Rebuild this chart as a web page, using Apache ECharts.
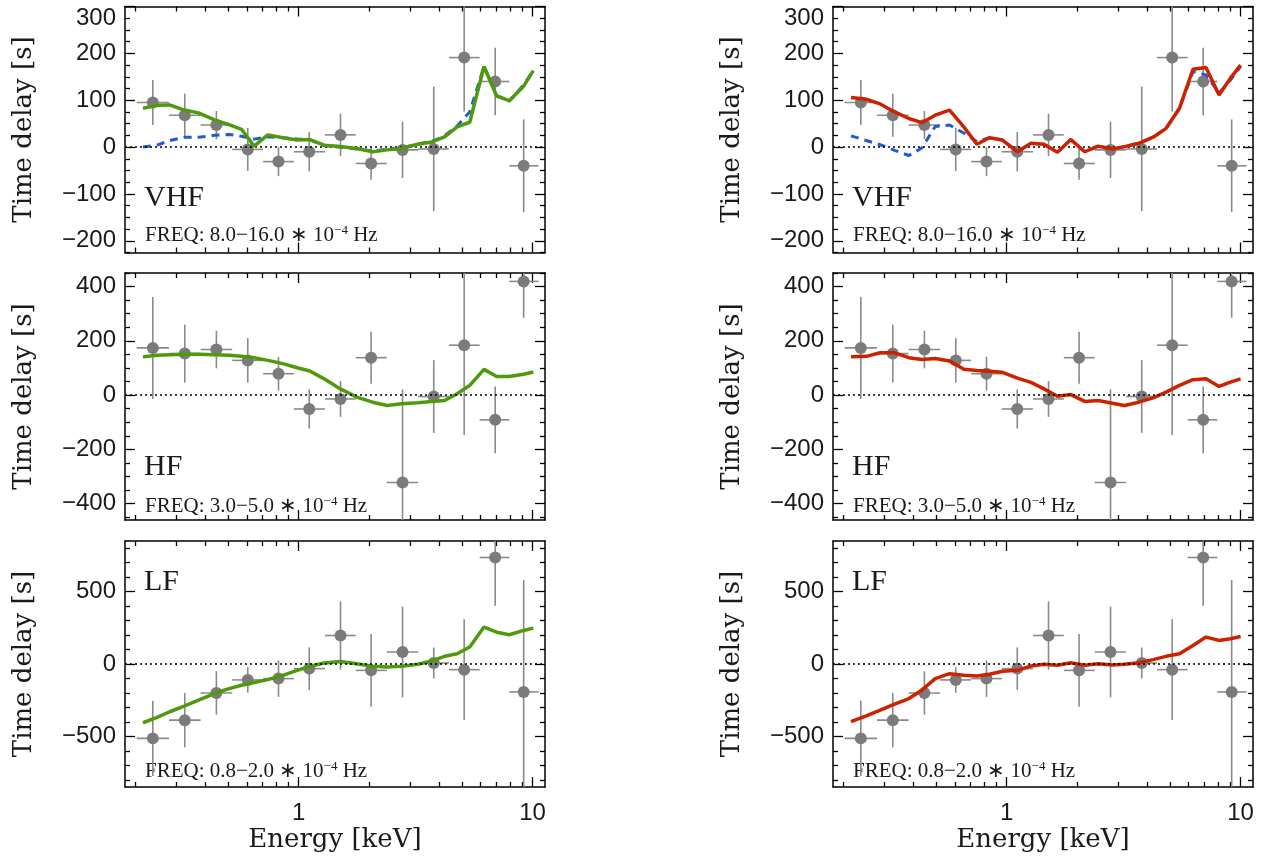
<!DOCTYPE html>
<html>
<head>
<meta charset="utf-8">
<script src="https://cdn.jsdelivr.net/npm/echarts@6/dist/echarts.min.js"></script>
<style>
  html, body { margin: 0; background: #fff; }
  #lag_chart { width: 1265px; height: 860px; }
</style>
</head>
<body>
<div id="lag_chart"></div>
<script>
// energy bins of the measured lags (keV): centre, lower and upper edge
const binE = [0.238, 0.326, 0.445, 0.606, 0.82, 1.11, 1.51, 2.04, 2.78, 3.78, 5.1, 6.92, 9.16]
const binLo = [0.203, 0.279, 0.381, 0.52, 0.705, 0.954, 1.295, 1.755, 2.38, 3.24, 4.39, 5.94, 7.96]
const binHi = [0.279, 0.381, 0.52, 0.705, 0.954, 1.295, 1.755, 2.38, 3.24, 4.39, 5.94, 7.96, 10.6]

// measured time delays and their errors (s)
const vhfLag = [95, 68, 47, -5, -31, -10, 26, -35, -6, -4, 191, 140, -40]
const vhfErr = [48, 46, 30, 46, 31, 42, 45, 35, 60, 133, 115, 72, 99]
const hfLag = [174, 153, 168, 128, 79, -51, -14, 138, -322, -5, 184, -91, 419]
const hfErr = [188, 107, 69, 82, 62, 72, 66, 96, 343, 134, 331, 123, 134]
const lfLag = [-514, -388, -200, -110, -101, -32, 197, -44, 83, 7, -39, 736, -193]
const lfErr = [260, 188, 150, 88, 126, 147, 236, 252, 313, 107, 348, 333, 773]

// model curves, left column (green) and its dashed companion
const greenE = [0.216, 0.248, 0.281, 0.324, 0.373, 0.437, 0.504, 0.570, 0.645, 0.738, 0.856, 0.986, 1.116, 1.286, 1.508,
  1.768, 2.073, 2.388, 2.751, 3.226, 3.715, 4.206, 4.760, 5.387, 6.20, 7.02, 7.95, 9.16, 10.07]
const vhfGreen = [83, 89, 90, 79, 73, 58, 48, 38, 2, 26, 20, 15, 16, 4, 1, -3, -10, -6, -3, 6, 11, 22, 43, 53, 172, 109, 99, 130, 163]
const vhfBlueL = [0, 4, 14, 21, 21, 25, 27, 23, 17, 22, 20, 17, 16, 3, 0, -4, -8, -5, -2, 7, 12, 24, 45, 75, 172, 110, 98, 133, 163]
const hfGreen = [141, 147, 149, 151, 151, 149, 147, 143, 138, 128, 116, 101, 89, 60, 23, -7, -26, -38, -32, -28, -23, -20, 5, 36, 95, 69, 69, 77, 85]
const lfGreen = [-406, -369, -330, -291, -250, -204, -170, -147, -128, -108, -78, -44, -16, 7, 18, 2, -16, -21, -16, -2, 21, 53, 71, 117, 255, 220, 202, 232, 248]

// model curves, right column (red) and its dashed companion
const redE = [0.216, 0.251, 0.288, 0.332, 0.382, 0.434, 0.495, 0.570, 0.656, 0.746, 0.844, 0.959, 1.113, 1.270, 1.444,
  1.648, 1.881, 2.157, 2.460, 2.831, 3.192, 3.673, 4.227, 4.804, 5.483, 6.257, 7.115, 8.09, 9.05, 10.0]
const vhfRed = [106, 102, 92, 75, 61, 52, 68, 79, 43, 6, 20, 15, -10, 8, 6, -11, 16, -10, 2, -4, 1, 8, 21, 40, 83, 166, 170, 111, 147, 175]
const vhfBlueR = [24, 14, 5, -7, -18, -2, 44, 47, 30, 12, 20, 15, -10, 8, 6, -11, 16, -10, 2, -4, 1, 8, 21, 40, 83, 161, 154, 115, 143, 172]
const hfRed = [141, 143, 156, 156, 138, 131, 135, 126, 95, 91, 88, 84, 63, 47, 23, -4, 2, -23, -20, -30, -38, -26, -10, 11, 36, 57, 60, 32, 48, 60]
const lfRed = [-399, -358, -319, -278, -239, -181, -101, -67, -78, -83, -71, -50, -44, -14, -2, -9, 9, -9, 2, -7, -2, 9, 30, 53, 71, 128, 186, 163, 174, 190]

// tick values
const xMajor = [1, 10]
const xMinor = [0.2, 0.3, 0.4, 0.5, 0.6, 0.7, 0.8, 0.9, 2, 3, 4, 5, 6, 7, 8, 9]
const vhfTicks = [-200, -100, 0, 100, 200, 300]
const vhfMinor = [-225, -175, -150, -125, -75, -50, -25, 25, 50, 75, 125, 150, 175, 225, 250, 275]
const hfTicks = [-400, -200, 0, 200, 400]
const hfMinor = [-450, -350, -300, -250, -150, -100, -50, 50, 100, 150, 250, 300, 350, 450]
const lfTicks = [-500, 0, 500]
const lfMinor = [-800, -700, -600, -400, -300, -200, -100, 100, 200, 300, 400, 600, 700, 800]

const GREEN = '#4f9a0c'
const RED = '#cc2200'
const BLUE = '#1f5bd1'
const GREY = '#7b7b7b'

const xRange = [0.181, 11.3]
const colLeft = [125, 833]
const plotWidth = 420
const rows = [
  { top: 6.5, height: 246, min: -225, max: 300, ticks: vhfTicks, minor: vhfMinor, tag: 'VHF', tagY: 198, freq: '8.0−16.0', freqY: 235 },
  { top: 273, height: 247, min: -460, max: 450, ticks: hfTicks, minor: hfMinor, tag: 'HF', tagY: 467, freq: '3.0−5.0', freqY: 506 },
  { top: 541, height: 246, min: -850, max: 850, ticks: lfTicks, minor: lfMinor, tag: 'LF', tagY: 582, freq: '0.8−2.0', freqY: 771 }
]

const panels = [
  { row: 0, col: 0, lag: vhfLag, err: vhfErr, lines: [{ e: greenE, v: vhfBlueL, color: BLUE, dash: true }, { e: greenE, v: vhfGreen, color: GREEN }] },
  { row: 0, col: 1, lag: vhfLag, err: vhfErr, lines: [{ e: redE, v: vhfBlueR, color: BLUE, dash: true }, { e: redE, v: vhfRed, color: RED }] },
  { row: 1, col: 0, lag: hfLag, err: hfErr, lines: [{ e: greenE, v: hfGreen, color: GREEN }] },
  { row: 1, col: 1, lag: hfLag, err: hfErr, lines: [{ e: redE, v: hfRed, color: RED }] },
  { row: 2, col: 0, lag: lfLag, err: lfErr, lines: [{ e: greenE, v: lfGreen, color: GREEN }] },
  { row: 2, col: 1, lag: lfLag, err: lfErr, lines: [{ e: redE, v: lfRed, color: RED }] }
]

const tickFont = { color: '#1a1a1a', fontFamily: 'Liberation Sans', fontSize: 24 }
const nameFont = { color: '#1a1a1a', fontFamily: 'DejaVu Serif', fontSize: 26 }
const minus = v => String(v).replace('-', '−')

function makeX (g, pos, ticks, len, main, labels) {
  return {
    type: 'log',
    logBase: 10,
    gridIndex: g,
    position: pos,
    min: xRange[0],
    max: xRange[1],
    axisLine: { show: main, onZero: false, lineStyle: { color: '#000', width: 1.5 } },
    axisTick: { show: true, inside: true, length: len, customValues: ticks, lineStyle: { color: '#000', width: 1.3 } },
    axisLabel: labels ? Object.assign({ show: true, customValues: xMajor, margin: 14, formatter: v => String(v) }, tickFont) : { show: false },
    splitLine: { show: false },
    name: labels ? 'Energy [keV]' : '',
    nameLocation: 'middle',
    nameGap: 40,
    nameTextStyle: nameFont
  }
}

function makeY (g, r, pos, ticks, len, main, labels) {
  const label = labels ? Object.assign({ show: true, customValues: r.ticks, margin: 9, formatter: minus }, tickFont) : { show: false }
  if (labels && r.max === r.ticks[r.ticks.length - 1]) label.verticalAlignMaxLabel = 'top'
  return {
    type: 'value',
    gridIndex: g,
    position: pos,
    min: r.min,
    max: r.max,
    axisLine: { show: main, onZero: false, lineStyle: { color: '#000', width: 1.5 } },
    axisTick: { show: true, inside: true, length: len, customValues: ticks, lineStyle: { color: '#000', width: 1.3 } },
    axisLabel: label,
    splitLine: { show: false },
    name: labels ? 'Time delay [s]' : '',
    nameLocation: 'middle',
    nameGap: 88,
    nameTextStyle: nameFont
  }
}

const grid = []
const xAxis = []
const yAxis = []
const series = []
const graphic = []

panels.forEach((p, g) => {
  const r = rows[p.row]
  const left = colLeft[p.col]
  grid.push({ left: left, top: r.top, width: plotWidth, height: r.height, containLabel: false, outerBoundsMode: 'none' })

  const xi = xAxis.length
  xAxis.push(makeX(g, 'bottom', xMajor, 10, true, p.row === 2))
  xAxis.push(makeX(g, 'bottom', xMinor, 5, false, false))
  xAxis.push(makeX(g, 'top', xMajor, 10, true, false))
  xAxis.push(makeX(g, 'top', xMinor, 5, false, false))

  const yi = yAxis.length
  yAxis.push(makeY(g, r, 'left', r.ticks, 10, true, true))
  yAxis.push(makeY(g, r, 'left', r.minor, 5, false, false))
  yAxis.push(makeY(g, r, 'right', r.ticks, 10, true, false))
  yAxis.push(makeY(g, r, 'right', r.minor, 5, false, false))

  // error bars
  series.push({
    type: 'custom',
    xAxisIndex: xi,
    yAxisIndex: yi,
    silent: true,
    z: 2,
    encode: { x: 0, y: 1 },
    data: binE.map((e, i) => [e, p.lag[i], binLo[i], binHi[i], p.err[i]]),
    renderItem: (params, api) => {
      const cs = params.coordSys
      const clampY = y => Math.min(Math.max(y, cs.y), cs.y + cs.height)
      const c = api.coord([api.value(0), api.value(1)])
      const lo = api.coord([api.value(2), api.value(1)])
      const hi = api.coord([api.value(3), api.value(1)])
      const up = api.coord([api.value(0), api.value(1) + api.value(4)])
      const dn = api.coord([api.value(0), api.value(1) - api.value(4)])
      const style = { stroke: '#8a8a8a', lineWidth: 1.6 }
      return {
        type: 'group',
        children: [
          { type: 'line', shape: { x1: lo[0], y1: c[1], x2: hi[0], y2: c[1] }, style: style },
          { type: 'line', shape: { x1: c[0], y1: clampY(up[1]), x2: c[0], y2: clampY(dn[1]) }, style: style }
        ]
      }
    }
  })

  // data points and the zero line
  series.push({
    type: 'scatter',
    xAxisIndex: xi,
    yAxisIndex: yi,
    silent: true,
    z: 3,
    symbolSize: 12,
    itemStyle: { color: GREY, opacity: 1 },
    data: binE.map((e, i) => [e, p.lag[i]]),
    markLine: {
      silent: true,
      symbol: ['none', 'none'],
      label: { show: false },
      lineStyle: { color: '#000', type: [2, 3], width: 1.5 },
      data: [{ yAxis: 0 }]
    }
  })

  // model curves
  p.lines.forEach((l, k) => {
    series.push({
      type: 'line',
      xAxisIndex: xi,
      yAxisIndex: yi,
      silent: true,
      z: 4 + k,
      symbol: 'none',
      clip: true,
      lineStyle: { color: l.color, width: l.dash ? 3 : 3.5, type: l.dash ? [8, 6] : 'solid' },
      data: l.e.map((e, i) => [e, l.v[i]])
    })
  })

  graphic.push({
    type: 'text',
    x: left + 19,
    y: r.tagY,
    style: { text: r.tag, font: '30px "Liberation Serif"', fill: '#1a1a1a', verticalAlign: 'middle' }
  })
  graphic.push({
    type: 'text',
    x: left + 20,
    y: r.freqY,
    style: {
      text: '{a|FREQ: ' + r.freq + ' ∗ 10}{s|−4}{a| Hz}',
      verticalAlign: 'middle',
      rich: {
        a: { fontFamily: 'Liberation Serif', fontSize: 21, fill: '#1a1a1a', color: '#1a1a1a' },
        s: { fontFamily: 'Liberation Serif', fontSize: 13, fill: '#1a1a1a', color: '#1a1a1a', verticalAlign: 'top' }
      }
    }
  })
})

const chart = echarts.init(document.getElementById('lag_chart'))
chart.setOption({
  backgroundColor: '#ffffff',
  animation: false,
  grid: grid,
  xAxis: xAxis,
  yAxis: yAxis,
  series: series,
  graphic: graphic
})
</script>
</body>
</html>
